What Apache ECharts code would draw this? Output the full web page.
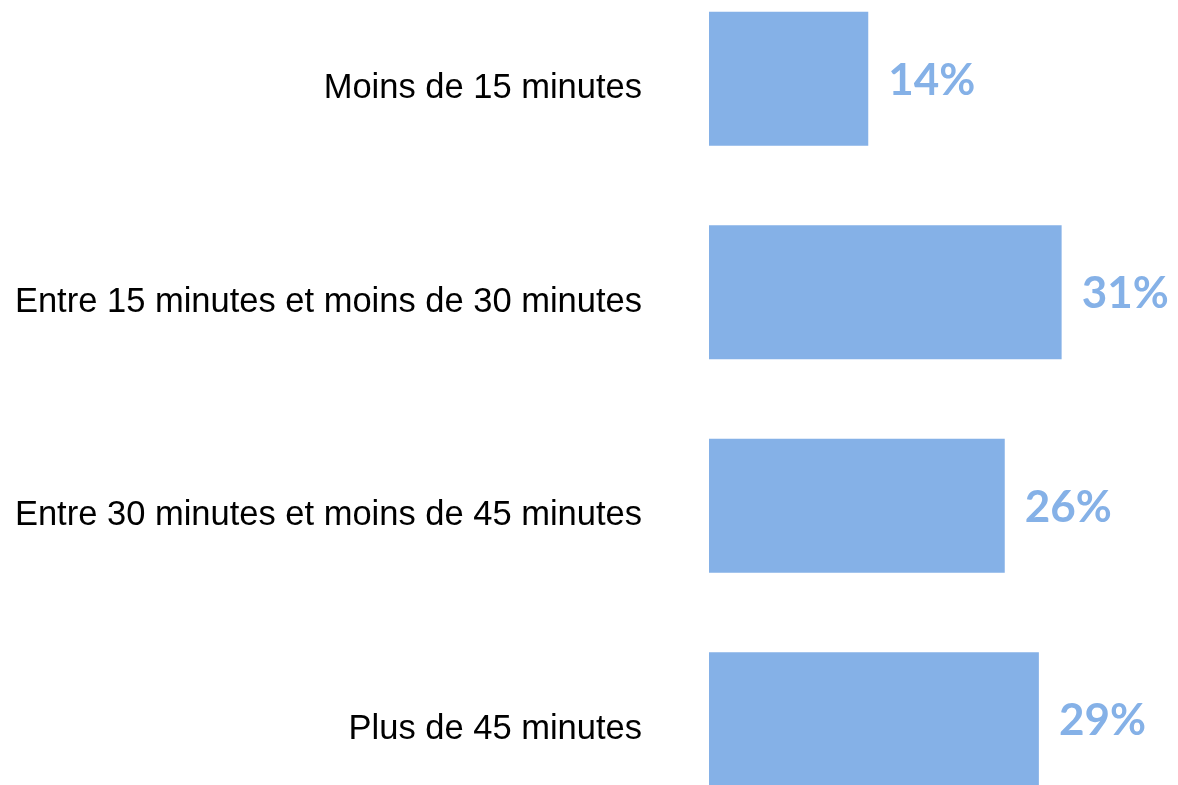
<!DOCTYPE html>
<html>
<head>
<meta charset="utf-8">
<script src="https://cdn.jsdelivr.net/npm/echarts@6/dist/echarts.min.js"></script>
<style>
  html, body { margin: 0; padding: 0; background: #fff; }
  #chart { width: 1178px; height: 785px; }
</style>
</head>
<body>
<div id="chart"></div>
<script>
var categories = [
  'Moins de 15 minutes',
  'Entre 15 minutes et moins de 30 minutes',
  'Entre 30 minutes et moins de 45 minutes',
  'Plus de 45 minutes'
];
var values = [14, 31, 26, 29];

var myChart = echarts.init(document.getElementById('chart'));
var option = {
  animation: false,
  grid: {
    left: 709,
    right: 14,
    top: -28,
    bottom: -41,
    containLabel: false,
    outerBoundsMode: 'none'
  },
  xAxis: {
    type: 'value',
    min: 0,
    max: 40,
    show: false
  },
  yAxis: {
    type: 'category',
    data: categories,
    inverse: true,
    axisLine: { show: false },
    axisTick: { show: false },
    axisLabel: {
      margin: 67,
      formatter: function (v) { return '{t|' + v + '}'; },
      rich: {
        t: {
          fontFamily: 'Liberation Sans',
          fontSize: 34.5,
          color: '#000',
          padding: [20, 0, 0, 0]
        }
      }
    }
  },
  series: [
    {
      type: 'bar',
      data: values,
      barWidth: 134,
      itemStyle: { color: '#85B1E7' },
      label: {
        show: true,
        position: 'right',
        distance: 20,
        offset: [0, 2],
        formatter: '{c}%',
        fontFamily: 'Lato',
        fontWeight: 'bold',
        fontSize: 44,
        color: '#85B1E7'
      }
    }
  ]
};
myChart.setOption(option);
</script>
</body>
</html>
